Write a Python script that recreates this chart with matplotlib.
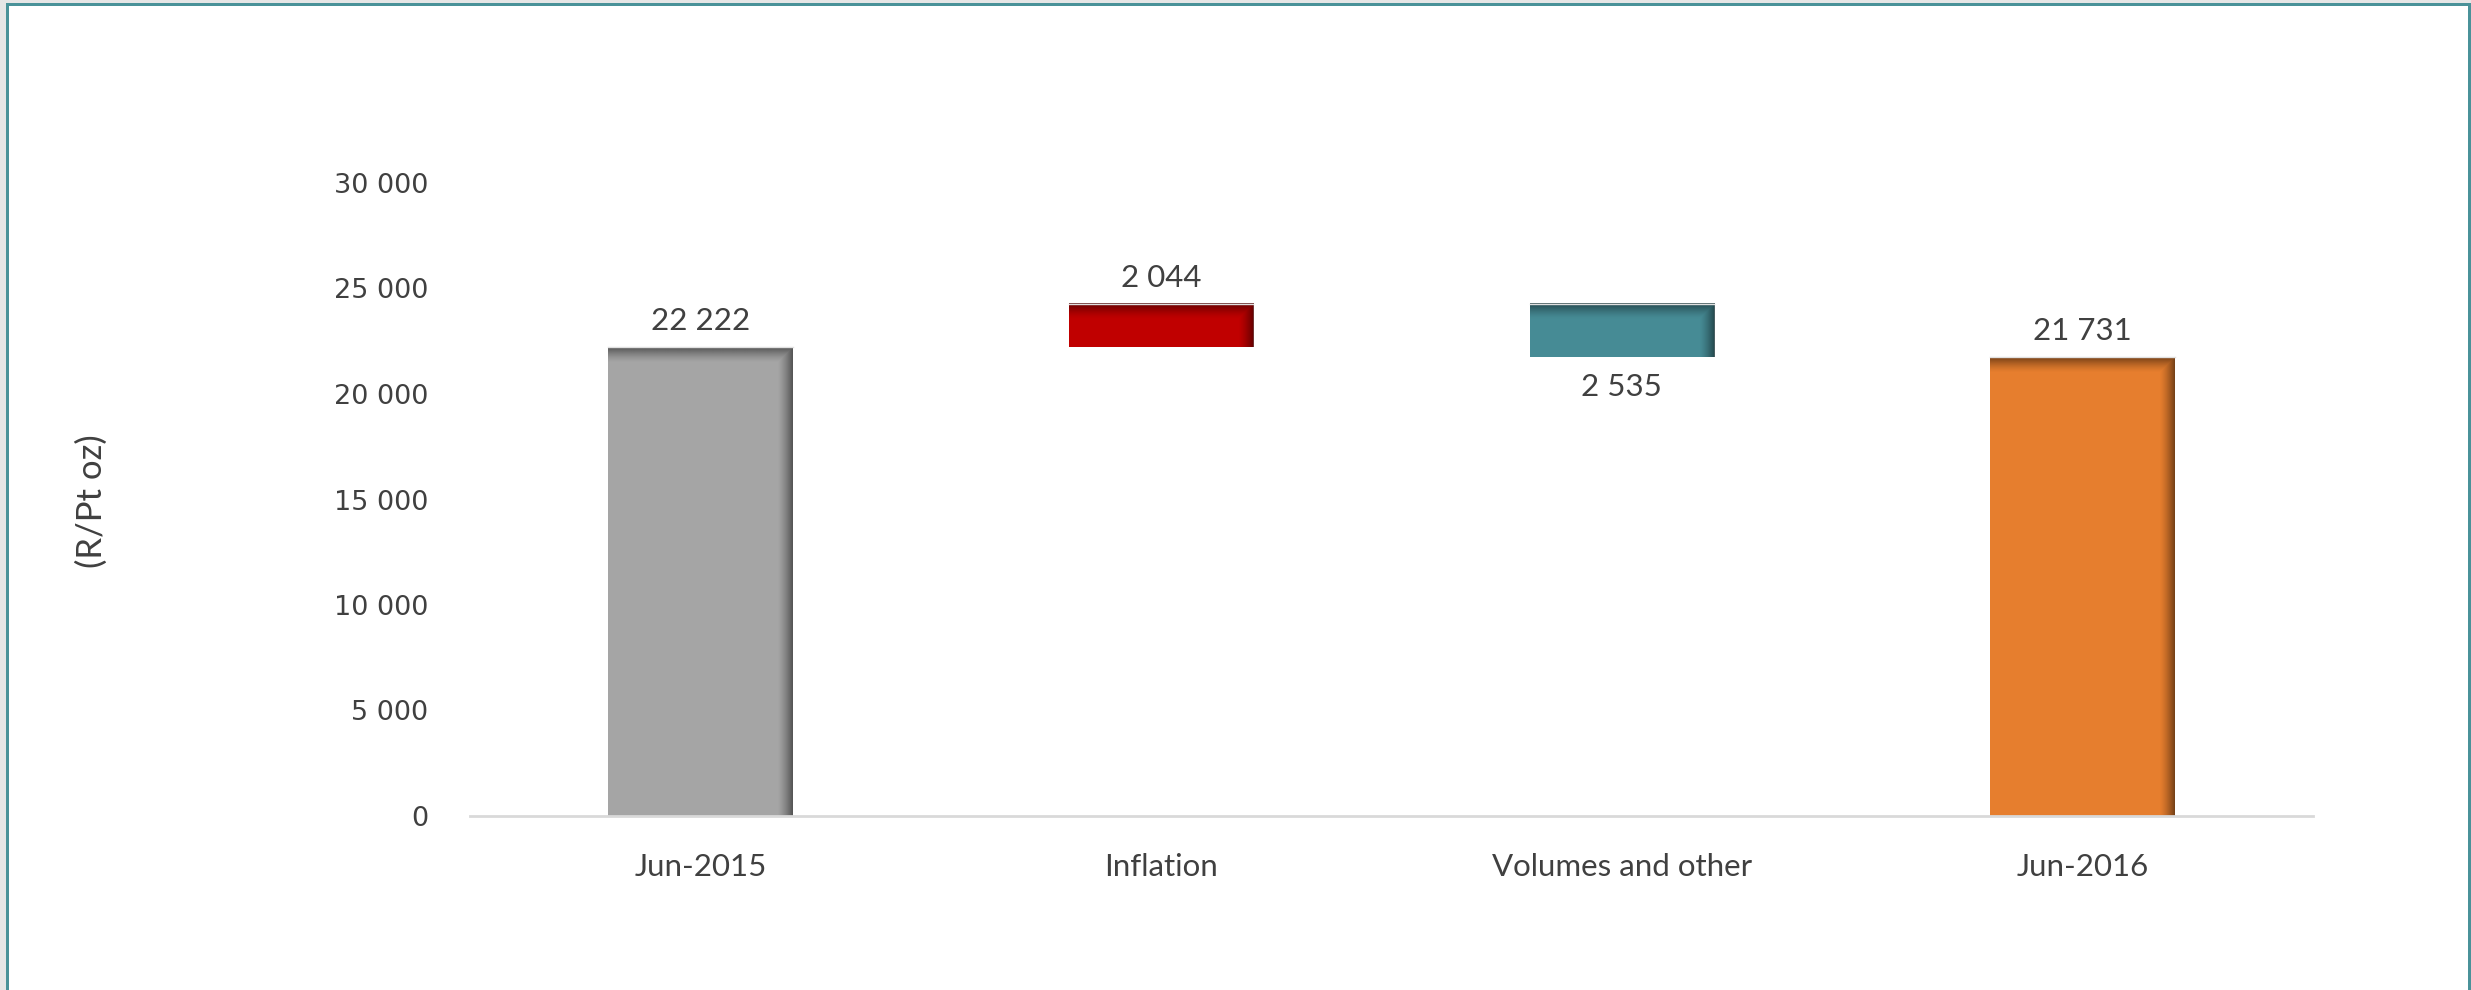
import numpy as np
import matplotlib
matplotlib.use('Agg')
import matplotlib.pyplot as plt
from matplotlib.patches import Rectangle
from matplotlib.colors import to_rgb

# Waterfall steps (R/Pt oz)
categories = ['Jun-2015', 'Inflation', 'Volumes and other', 'Jun-2016']
start_value = 22222
inflation = 2044
volumes = -2535
end_value = 21731
bar_colors = ['#a5a5a5', '#c00000', '#468b95', '#e67e2e']
y_ticks = [0, 5000, 10000, 15000, 20000, 25000, 30000]

W, H, DPI = 2471, 990, 100
fig = plt.figure(figsize=(W / DPI, H / DPI), dpi=DPI)
fig.patch.set_facecolor('white')

# grey canvas edge and teal frame around the chart
def px_rect(x0, y0, x1, y1, color):
    fig.patches.append(Rectangle((x0 / W, 1 - y1 / H), (x1 - x0) / W, (y1 - y0) / H,
                                 transform=fig.transFigure, color=color, lw=0, zorder=0))

px_rect(0, 0, 6, H, '#e6e6e6')
px_rect(0, 0, W, 3, '#e6e6e6')
px_rect(6, 3, 9, H, '#4a9299')
px_rect(6, 3, W, 6, '#4a9299')
px_rect(2468, 3, W, H, '#4a9299')

ax_left, ax_right, ax_bottom, ax_top = 470, 2313, 816, 183
ax = fig.add_axes([ax_left / W, 1 - ax_bottom / H, (ax_right - ax_left) / W,
                   (ax_bottom - ax_top) / H])
ax.set_xlim(-0.5, 3.5)
ax.set_ylim(0, 30000)

bottoms = [0, start_value, start_value + inflation + volumes, 0]
heights = [start_value, inflation, -volumes, end_value]
bar_w = 0.4

px_x = 4.0 / (ax_right - ax_left)
px_y = 30000.0 / (ax_bottom - ax_top)

def shade(x0, b, h, color):
    # inner shadow along the top and right edges of a bar
    nx = int(round(bar_w / px_x))
    ny = max(int(round(h / px_y)), 2)
    xx = np.arange(nx)[None, :]
    yy = np.arange(ny)[:, None]
    band = 15.0
    top = np.clip(1 - yy / band, 0, 1) ** 1.4
    right = np.clip(1 - (nx - 1 - xx) / band, 0, 1) ** 1.4
    alpha = np.maximum(top, right) * 0.8
    rgb = np.array(to_rgb(color)) * 0.4
    img = np.zeros((ny, nx, 4))
    img[..., :3] = rgb
    img[..., 3] = alpha
    ax.imshow(img, extent=(x0, x0 + bar_w, b, b + h), origin='upper',
              aspect='auto', interpolation='bilinear', zorder=3)
    ax.plot([x0, x0 + bar_w], [b + h, b + h], color='#e0e0e0', lw=1, zorder=4)

x = np.arange(len(categories))
for i in range(len(categories)):
    ax.bar(x[i], heights[i], bottom=bottoms[i], width=bar_w, color=bar_colors[i],
           zorder=2, linewidth=0)
    shade(x[i] - bar_w / 2, bottoms[i], heights[i], bar_colors[i])

ax.set_xlim(-0.5, 3.5)
ax.set_ylim(0, 30000)

def fmt(v):
    return f'{abs(v):,}'.replace(',', ' ')

label_font = dict(family=['Lato', 'DejaVu Sans'], fontsize=22.5, color='#404040')
off = 26 * px_y
ax.text(x[0], start_value + off, fmt(start_value), ha='center', va='center', **label_font)
ax.text(x[1], start_value + inflation + off, fmt(inflation), ha='center', va='center', **label_font)
ax.text(x[2], start_value + inflation + volumes - off - 4 * px_y, fmt(volumes),
        ha='center', va='center', **label_font)
ax.text(x[3], end_value + off, fmt(end_value), ha='center', va='center', **label_font)

ax.set_xticks(x)
ax.set_xticklabels(categories, **label_font)
ax.set_yticks(y_ticks)
ax.set_yticklabels([fmt(v) for v in y_ticks], family='DejaVu Sans', fontsize=19.5,
                   color='#404040')
ax.tick_params(axis='both', length=0)
ax.tick_params(axis='x', pad=27)
ax.tick_params(axis='y', pad=30)

for s in ['top', 'right', 'left']:
    ax.spines[s].set_visible(False)
ax.spines['bottom'].set_color('#d9d9d9')
ax.spines['bottom'].set_linewidth(2)
ax.spines['bottom'].set_zorder(5)

fig.text(92 / W, 1 - 501 / H, '(R/Pt oz)', rotation=90, ha='center', va='center',
         family=['Lato', 'DejaVu Sans'], fontsize=25, color='#404040')

fig.savefig('out.png', dpi=DPI)
